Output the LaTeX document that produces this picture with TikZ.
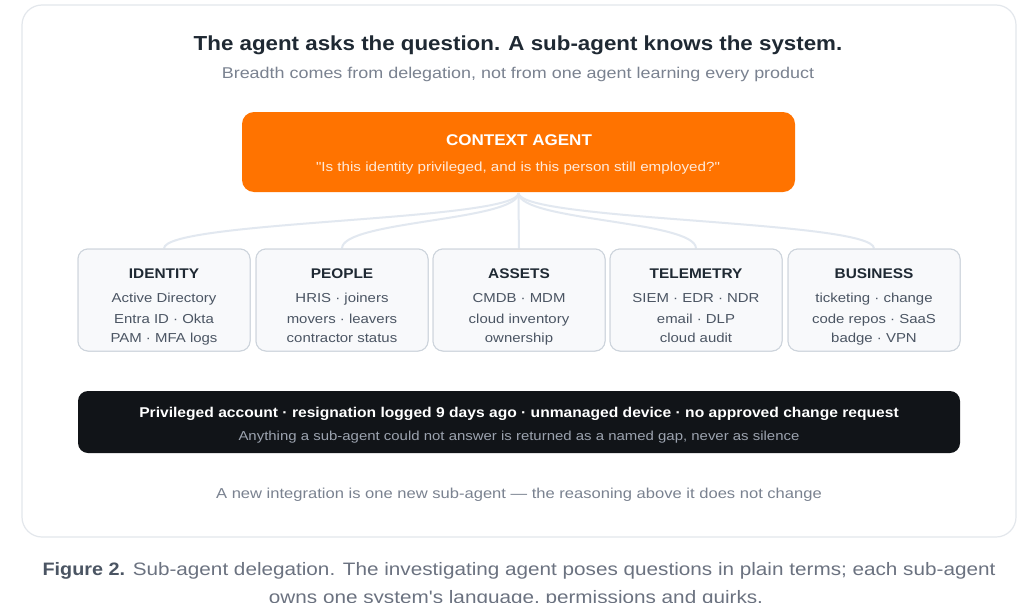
\documentclass[tikz,border=0pt]{standalone}
\usepackage{fontspec}
\usetikzlibrary{calc}
\setmainfont{Liberation Sans}[Ligatures=TeXOff, FakeStretch=1.15, BoldFeatures={FakeStretch=1.1}]
\definecolor{ink}{HTML}{1F2933}
\definecolor{sub}{HTML}{7A8290}
\definecolor{orng}{HTML}{FF7300}
\definecolor{cardline}{HTML}{E3E7EC}
\definecolor{boxfill}{HTML}{F8F9FB}
\definecolor{boxline}{HTML}{CDD4DC}
\definecolor{item}{HTML}{4B5563}
\definecolor{wire}{HTML}{E2E8F0}
\definecolor{blk}{HTML}{111418}
\definecolor{blkgray}{HTML}{9CA3AF}
\definecolor{cap}{HTML}{6B7280}
\definecolor{capdark}{HTML}{4B5563}
\tikzset{
  txt/.style={inner sep=0pt, anchor=base},
  srcbox/.style={draw=boxline, line width=1pt, fill=boxfill, rounded corners=10pt, minimum width=172pt, minimum height=102pt, inner sep=0pt},
  wireline/.style={draw=wire, line width=2pt},
  srctitle/.style={txt, font=\bfseries\fontsize{14}{16}\selectfont, text=ink},
  srcitem/.style={txt, font=\fontsize{13}{15}\selectfont, text=item},
}
\begin{document}
\begin{tikzpicture}[x=1pt,y=-1pt]
\clip (0,0) rectangle (1024,602);
\useasboundingbox (0,0) rectangle (1024,602);
\fill[white] (0,0) rectangle (1024,602);
% card
\draw[cardline, line width=1.2pt, fill=white, rounded corners=20pt] (22,5) rectangle (1016,537);
\node[txt, font=\bfseries\fontsize{20.3}{24}\selectfont, text=ink] (title) at (518,50) {The agent asks the question. A sub-agent knows the system.};
\node[txt, font=\fontsize{15.6}{18}\selectfont, text=sub] (subtitle) at (518,78) {Breadth comes from delegation, not from one agent learning every product};
% context agent
\node[fill=orng, rounded corners=12pt, minimum width=553pt, minimum height=80pt, inner sep=0pt] (ctx) at (518.5,152) {};
\node[txt, font=\bfseries\fontsize{15.5}{18}\selectfont, text=white] (ctxt) at (519,145) {CONTEXT AGENT};
\node[txt, font=\fontsize{13.2}{15}\selectfont, text=white, text opacity=0.85] (ctxq) at (518,171) {"Is this identity privileged, and is this person still employed?"};
% source boxes
\node[srcbox] (idb) at (164,300) {};
\node[srcbox] (peb) at (342,300) {};
\node[srcbox] (asb) at (519,300) {};
\node[srcbox] (teb) at (696,300) {};
\node[srcbox] (bub) at (874,300) {};
\coordinate (hub) at (518.5,193);
\foreach \b in {idb,peb,teb,bub}{
  \draw[wireline] (hub) .. controls ($(hub)+(0,28)$) and ($(\b.north)+(0,-28)$) .. (\b.north);
}
\draw[wireline] (hub) -- (asb.north);
% redraw boxes on top of wires
\node[srcbox] at (idb) {};
\node[srcbox] at (peb) {};
\node[srcbox] at (asb) {};
\node[srcbox] at (teb) {};
\node[srcbox] at (bub) {};
\node[srctitle] (idt) at (164,278) {IDENTITY};
\node[srcitem] (id1) at (164,302) {Active Directory};
\node[srcitem] (id2) at (164,323) {Entra ID · Okta};
\node[srcitem] (id3) at (164,342) {PAM · MFA logs};
\node[srctitle] (pet) at (342,278) {PEOPLE};
\node[srcitem] (pe1) at (342,302) {HRIS · joiners};
\node[srcitem] (pe2) at (342,323) {movers · leavers};
\node[srcitem] (pe3) at (342,342) {contractor status};
\node[srctitle] (ast) at (519,278) {ASSETS};
\node[srcitem] (as1) at (519,302) {CMDB · MDM};
\node[srcitem] (as2) at (519,323) {cloud inventory};
\node[srcitem] (as3) at (519,342) {ownership};
\node[srctitle] (tet) at (696,278) {TELEMETRY};
\node[srcitem] (te1) at (696,302) {SIEM · EDR · NDR};
\node[srcitem] (te2) at (696,323) {email · DLP};
\node[srcitem] (te3) at (696,342) {cloud audit};
\node[srctitle] (but) at (874,278) {BUSINESS};
\node[srcitem] (bu1) at (874,302) {ticketing · change};
\node[srcitem] (bu2) at (874,323) {code repos · SaaS};
\node[srcitem] (bu3) at (874,342) {badge · VPN};
% result bar
\node[fill=blk, rounded corners=10pt, minimum width=882pt, minimum height=62pt, inner sep=0pt] (res) at (519,422) {};
\node[txt, font=\bfseries\fontsize{14.2}{17}\selectfont, text=white] (res1) at (519,417) {Privileged account · resignation logged 9 days ago · unmanaged device · no approved change request};
\node[txt, font=\fontsize{13}{15}\selectfont, text=blkgray] (res2) at (519,440) {Anything a sub-agent could not answer is returned as a named gap, never as silence};
% footer
\node[txt, font=\fontsize{14.4}{17}\selectfont, text=sub] (foot) at (519,498) {A new integration is one new sub-agent — the reasoning above it does not change};
% caption
\node[txt, font=\fontsize{18}{22}\selectfont, text=cap] (cap1) at (519,575) {\textcolor{capdark}{\bfseries Figure 2.} Sub-agent delegation. The investigating agent poses questions in plain terms; each sub-agent};
\node[txt, font=\fontsize{18}{22}\selectfont, text=cap] (cap2) at (516,603) {owns one system's language, permissions and quirks.};
\end{tikzpicture}
\end{document}
